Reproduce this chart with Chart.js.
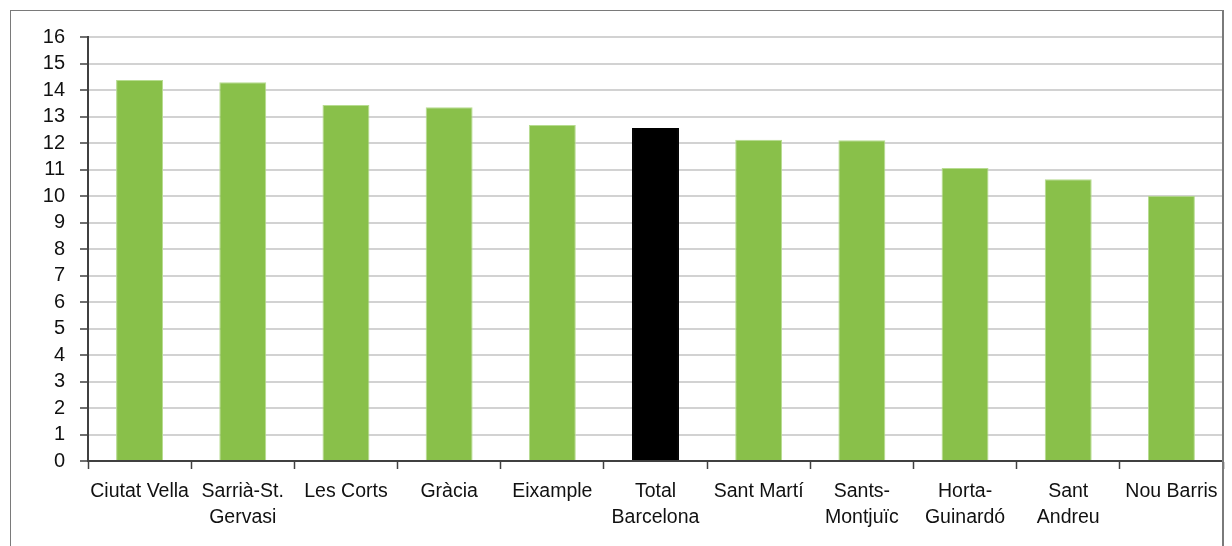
<!DOCTYPE html>
<html>
<head>
<meta charset="utf-8">
<script src="https://cdn.jsdelivr.net/npm/chart.js@4"></script>
<style>
  body { margin: 0; background: #fff; }
  #wrap { position: relative; width: 1232px; height: 546px; }
  #frame { position: absolute; left: 10px; top: 10px; width: 1211px; height: 600px; border: 1px solid #7a7a7a; border-right-width: 2px; pointer-events: none; }
  canvas { position: absolute; left: 0; top: 0; }
</style>
</head>
<body>
<div id="wrap">
  <canvas id="chart" width="1232" height="546"></canvas>
  <div id="frame"></div>
</div>
<script>
// districts of Barcelona, sorted
const districts = [
  "Ciutat Vella", ["Sarrià-St.", "Gervasi"], "Les Corts", "Gràcia", "Eixample",
  ["Total", "Barcelona"], "Sant Martí", ["Sants-", "Montjuïc"], ["Horta-", "Guinardó"],
  ["Sant", "Andreu"], "Nou Barris"
];
const values = [14.38, 14.29, 13.43, 13.35, 12.68, 12.57, 12.12, 12.1, 11.06, 10.63, 10.01];
const totalIndex = 5;
const yTicks = { min: 0, max: 16, step: 1 };

const green = "#89c04a";
const greenEdge = "#b7dc90";
const labelFont = { family: "'Liberation Sans', Arial", size: 19.5, lineHeight: "26px" };

new Chart(document.getElementById("chart"), {
  type: "bar",
  data: {
    labels: districts,
    datasets: [{
      data: values,
      backgroundColor: values.map((v, i) => i === totalIndex ? "#000000" : green),
      borderColor: values.map((v, i) => i === totalIndex ? "#000000" : greenEdge),
      borderWidth: 1,
      barPercentage: 0.455,
      categoryPercentage: 1
    }]
  },
  options: {
    responsive: false,
    animation: false,
    layout: { padding: { left: 0, top: 37, right: 9, bottom: 0 } },
    plugins: { legend: { display: false }, tooltip: { enabled: false } },
    scales: {
      x: {
        offset: true,
        grid: { offset: true, drawOnChartArea: false, drawTicks: true, tickLength: 8, tickColor: "#404040", tickWidth: 1.5 },
        border: { color: "#404040", width: 2 },
        ticks: { color: "#111", font: labelFont, padding: 10, maxRotation: 0, autoSkip: false },
        afterFit: s => { s.height = 85; }
      },
      y: {
        min: yTicks.min,
        max: yTicks.max,
        grid: { color: "#d2d2d2", lineWidth: 2, tickLength: 8, tickColor: "#404040", tickWidth: 1.5 },
        border: { color: "#404040", width: 2 },
        ticks: { stepSize: yTicks.step, color: "#111", font: { family: "'Liberation Sans', Arial", size: 20 }, padding: 15, autoSkip: false },
        afterFit: s => { s.width = 88; }
      }
    }
  }
});
</script>
</body>
</html>
